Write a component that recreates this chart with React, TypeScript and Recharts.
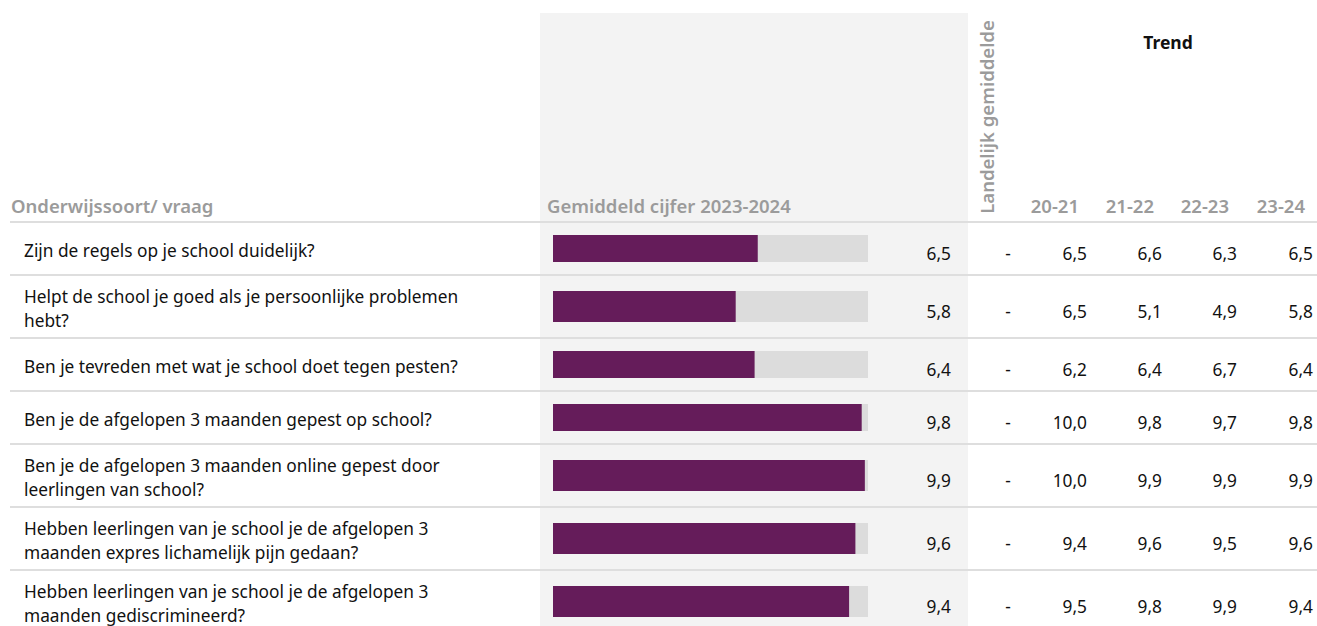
import React from 'react';
import {BarChart, Bar, XAxis, YAxis} from 'recharts';

const questions = [
    'Zijn de regels op je school duidelijk?',
    'Helpt de school je goed als je persoonlijke problemen\nhebt?',
    'Ben je tevreden met wat je school doet tegen pesten?',
    'Ben je de afgelopen 3 maanden gepest op school?',
    'Ben je de afgelopen 3 maanden online gepest door\nleerlingen van school?',
    'Hebben leerlingen van je school je de afgelopen 3\nmaanden expres lichamelijk pijn gedaan?',
    'Hebben leerlingen van je school je de afgelopen 3\nmaanden gediscrimineerd?',
];
const scores2324 = [6.5, 5.8, 6.4, 9.8, 9.9, 9.6, 9.4];
const national: (number | null)[] = [null, null, null, null, null, null, null];
const trendYears = ['20-21', '21-22', '22-23', '23-24'];
const trend2021 = [6.5, 6.5, 6.2, 10.0, 10.0, 9.4, 9.5];
const trend2122 = [6.6, 5.1, 6.4, 9.8, 9.9, 9.6, 9.8];
const trend2223 = [6.3, 4.9, 6.7, 9.7, 9.9, 9.5, 9.9];
const trend2324 = [6.5, 5.8, 6.4, 9.8, 9.9, 9.6, 9.4];

const trendCols = [trend2021, trend2122, trend2223, trend2324];
const trendRight = [1087, 1162, 1237, 1313];

const FONT = '"Noto Sans", "Open Sans", sans-serif';
const PURPLE = '#651c5a';
const fmt = (v: number | null) => (v == null ? '-' : v.toFixed(1).replace('.', ','));

const headStyle: React.CSSProperties = {
    position: 'absolute',
    color: '#9b9b9b',
    fontWeight: 600,
    fontSize: 18.5,
    lineHeight: '22px',
    whiteSpace: 'nowrap',
};

const RowBar = ({name, value, height, barSize}: {name: string; value: number; height: number; barSize: number}) => (
    <BarChart width={315} height={height} data={[{name, value}]} layout="vertical" margin={{top: 0, right: 0, bottom: 0, left: 0}}>
        <XAxis type="number" domain={[0, 10]} hide />
        <YAxis type="category" dataKey="name" hide />
        <Bar dataKey="value" fill={PURPLE} barSize={barSize} background={{fill: '#dcdcdc'}} isAnimationActive={false} />
    </BarChart>
);

const App = () => {
    let top = 221;
    const rows = questions.map((q, i) => {
        const lines = q.split('\n').length;
        const h = lines === 1 ? 53 : 63;
        const y = top;
        top += h;
        const cell = (left: number, width: number, align: 'left' | 'right' | 'center'): React.CSSProperties => ({
            position: 'absolute',
            left,
            width,
            top: 2,
            height: h - 2,
            display: 'flex',
            alignItems: 'center',
            justifyContent: align === 'left' ? 'flex-start' : align === 'right' ? 'flex-end' : 'center',
        });
        return (
            <div key={i} style={{position: 'absolute', left: 10, top: y, width: 1307, height: h, borderTop: '2px solid #dedede', boxSizing: 'border-box'}}>
                <div style={{...cell(14, 515, 'left'), whiteSpace: 'pre-line', lineHeight: '24px', color: '#111', paddingBottom: 2}}>{q}</div>
                <div style={{position: 'absolute', left: 543, top: 0}}>
                    <RowBar name={q} value={scores2324[i]} height={h - 2} barSize={lines === 1 ? 27 : 31} />
                </div>
                <div style={{...cell(880, 61, 'right'), paddingTop: 3}}>{fmt(scores2324[i])}</div>
                <div style={{...cell(978, 40, 'center'), paddingTop: 3}}>{fmt(national[i])}</div>
                {trendCols.map((col, j) => (
                    <div key={j} style={{...cell(trendRight[j] - 10 - 60, 60, 'right'), paddingTop: 3}}>{fmt(col[i])}</div>
                ))}
            </div>
        );
    });

    return (
        <div style={{position: 'absolute', left: 0, top: 0, width: 1317, height: 626, overflow: 'hidden', background: '#fff', fontFamily: FONT, fontSize: 17.3, color: '#111'}}>
            <div style={{position: 'absolute', left: 540, top: 13, width: 428, height: 640, background: '#f3f3f3'}} />
            <div style={{...headStyle, left: 11, top: 195}}>Onderwijssoort/ vraag</div>
            <div style={{...headStyle, left: 547, top: 195}}>Gemiddeld cijfer 2023-2024</div>
            <div style={{...headStyle, left: 987, top: 117, transform: 'translate(-50%, -50%) rotate(-90deg)'}}>Landelijk gemiddelde</div>
            <div style={{position: 'absolute', left: 1168, top: 30, transform: 'translateX(-50%)', fontWeight: 700, fontSize: 17.5, lineHeight: '24px', color: '#111'}}>Trend</div>
            {trendYears.map((t, j) => (
                <div key={t} style={{...headStyle, left: trendRight[j] - 8 - 70, width: 70, textAlign: 'right', top: 195}}>{t}</div>
            ))}
            {rows}
        </div>
    );
};

export default App;
